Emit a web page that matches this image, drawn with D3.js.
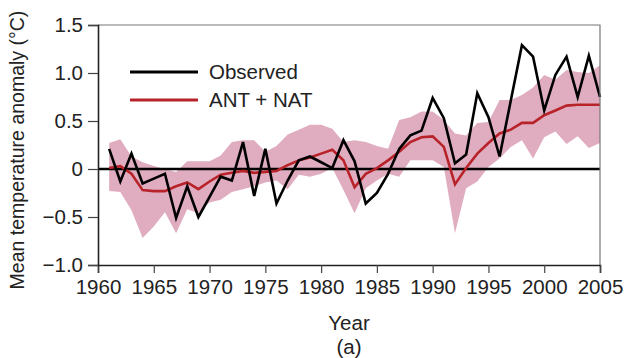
<!DOCTYPE html>
<html>
<head>
<meta charset="utf-8">
<script src="https://cdn.jsdelivr.net/npm/d3@7"></script>
<style>
  body { margin: 0; background: #fff; }
  svg text { font-family: "Liberation Sans", Arial, sans-serif; fill: #222; }
</style>
</head>
<body>
<div id="chart"></div>
<script>
// years 1961..2005
const years = d3.range(1961, 2006);

const observed = [0.21, -0.13, 0.16, -0.15, -0.10, -0.05, -0.51, -0.18, -0.50, -0.29,
  -0.08, -0.12, 0.28, -0.28, 0.21, -0.36, -0.12, 0.09, 0.13, 0.07,
  0.01, 0.30, 0.08, -0.36, -0.25, -0.05, 0.21, 0.35, 0.40, 0.74,
  0.53, 0.06, 0.15, 0.79, 0.54, 0.13, 0.71, 1.29, 1.17, 0.61,
  0.98, 1.17, 0.75, 1.18, 0.75];

const antNat = [0.01, 0.03, -0.05, -0.22, -0.23, -0.23, -0.18, -0.14, -0.21, -0.13,
  -0.06, -0.04, -0.02, -0.04, -0.03, -0.02, 0.04, 0.09, 0.12, 0.16,
  0.20, 0.09, -0.19, -0.05, 0.01, 0.09, 0.18, 0.28, 0.33, 0.34,
  0.23, -0.16, 0.01, 0.16, 0.27, 0.37, 0.41, 0.48, 0.48, 0.56,
  0.61, 0.66, 0.67, 0.67, 0.67];

const bandUpper = [0.27, 0.31, 0.13, 0.07, 0.03, 0.00, -0.03, 0.08, 0.08, 0.08,
  0.14, 0.28, 0.30, 0.30, 0.18, 0.24, 0.36, 0.41, 0.46, 0.46,
  0.42, 0.28, 0.30, 0.28, 0.24, 0.21, 0.51, 0.54, 0.60, 0.60,
  0.51, 0.37, 0.35, 0.48, 0.49, 0.72, 0.72, 0.77, 0.85, 0.98,
  0.93, 1.03, 1.01, 1.00, 1.08];

const bandLower = [-0.23, -0.24, -0.43, -0.72, -0.60, -0.45, -0.67, -0.42, -0.46, -0.35,
  -0.32, -0.24, -0.21, -0.18, -0.14, -0.12, -0.21, -0.06, -0.08, -0.05,
  0.01, -0.22, -0.46, -0.20, -0.12, -0.05, -0.08, 0.09, 0.09, 0.09,
  0.02, -0.67, -0.20, -0.13, 0.02, 0.11, 0.23, 0.30, 0.11, 0.33,
  0.39, 0.26, 0.34, 0.22, 0.27];

const xTicks = d3.range(1960, 2006, 5);
const yTicks = [-1.0, -0.5, 0, 0.5, 1.0, 1.5];

const width = 624, height = 358;
const margin = { top: 25, right: 24, bottom: 93, left: 98 };
const w = width - margin.left - margin.right;
const h = height - margin.top - margin.bottom;
const fontSize = '20.5px';

const svg = d3.select('#chart').append('svg')
  .attr('width', width)
  .attr('height', height);

const g = svg.append('g').attr('transform', 'translate(' + margin.left + ',' + margin.top + ')');

const x = d3.scaleLinear().domain([1960, 2005]).range([0, w]);
const y = d3.scaleLinear().domain([-1.0, 1.5]).range([h, 0]);

const rows = years.map((yr, i) => ({
  year: yr, obs: observed[i], model: antNat[i], lo: bandLower[i], hi: bandUpper[i]
}));

// model spread band
g.append('path')
  .datum(rows)
  .attr('fill', '#e0adc0')
  .attr('d', d3.area()
    .x(d => x(d.year))
    .y0(d => y(d.lo))
    .y1(d => y(d.hi)));

// zero line
g.append('line')
  .attr('x1', 0).attr('x2', w)
  .attr('y1', y(0)).attr('y2', y(0))
  .attr('stroke', '#000')
  .attr('stroke-width', 2.6);

// ANT + NAT mean
g.append('path')
  .datum(rows)
  .attr('fill', 'none')
  .attr('stroke', '#b8232a')
  .attr('stroke-width', 2.6)
  .attr('d', d3.line().x(d => x(d.year)).y(d => y(d.model)));

// observed
g.append('path')
  .datum(rows)
  .attr('fill', 'none')
  .attr('stroke', '#000')
  .attr('stroke-width', 2.6)
  .attr('stroke-linejoin', 'miter')
  .attr('d', d3.line().x(d => x(d.year)).y(d => y(d.obs)));

// frame: top and right
g.append('path')
  .attr('d', 'M0,0H' + w + 'V' + h)
  .attr('fill', 'none')
  .attr('stroke', '#777')
  .attr('stroke-width', 1.2);

/* axes */
const xAxis = g.append('g')
  .attr('transform', 'translate(0,' + h + ')')
  .call(d3.axisBottom(x).tickValues(xTicks).tickFormat(d3.format('d')).tickSize(8).tickPadding(6));

const yAxis = g.append('g')
  .call(d3.axisLeft(y).tickValues(yTicks)
    .tickFormat(d => d === 0 ? '0' : d3.format('.1f')(d).replace('-', '\u2212'))
    .tickSize(10).tickPadding(5));

[xAxis, yAxis].forEach(a => {
  a.select('.domain').attr('stroke', '#222').attr('stroke-width', 1.6);
  a.selectAll('.tick line').attr('stroke', '#444').attr('stroke-width', 1.2);
  a.selectAll('.tick text').style('font-size', fontSize).attr('fill', '#222');
});

// axis titles
svg.append('text')
  .attr('x', margin.left + w / 2)
  .attr('y', 330)
  .attr('text-anchor', 'middle')
  .style('font-size', fontSize)
  .text('Year');

svg.append('text')
  .attr('x', margin.left + w / 2)
  .attr('y', 354)
  .attr('text-anchor', 'middle')
  .style('font-size', fontSize)
  .text('(a)');

svg.append('text')
  .attr('transform', 'rotate(-90)')
  .attr('x', -150)
  .attr('y', 24)
  .attr('text-anchor', 'middle')
  .style('font-size', '19.5px')
  .text('Mean temperature anomaly (\u00b0C)');

/* legend */
const legendItems = [
  { label: 'Observed', color: '#000', yv: 72 },
  { label: 'ANT + NAT', color: '#b8232a', yv: 100 }
];
const lg = svg.append('g');
legendItems.forEach(it => {
  lg.append('line')
    .attr('x1', 130).attr('x2', 198)
    .attr('y1', it.yv).attr('y2', it.yv)
    .attr('stroke', it.color)
    .attr('stroke-width', 3);
  lg.append('text')
    .attr('x', 209)
    .attr('y', it.yv + 7)
    .style('font-size', fontSize)
    .text(it.label);
});
</script>
</body>
</html>
